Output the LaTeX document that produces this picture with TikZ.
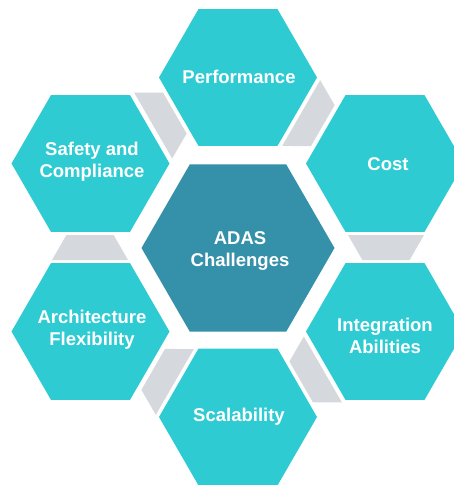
\documentclass[tikz,border=0pt]{standalone}
\usepackage{fontspec}
\setmainfont{Liberation Sans}
\usetikzlibrary{shapes.geometric}
\definecolor{hexcyan}{HTML}{2ECBD2}
\definecolor{hexdark}{HTML}{3590A9}
\definecolor{gapgray}{HTML}{D5D8DC}
\begin{document}
\begin{tikzpicture}[x=1pt,y=-1pt,
  hexo/.style={regular polygon, regular polygon sides=6, minimum size=158pt,
    inner sep=0pt, outer sep=0pt, fill=hexcyan},
  hexc/.style={hexo, minimum size=193pt, fill=hexdark},
  lbl/.style={text=white, inner sep=0pt,
    font=\bfseries\fontsize{18.5}{22}\selectfont, align=center},
  gappiece/.style={fill=gapgray}]
\useasboundingbox (0,0) rectangle (454,485);
\clip (0,0) rectangle (454,485);
\coordinate (c) at (238,247.5);
% gray connecting pieces (clockwise flow)
\foreach \a in {0,60,...,300}{
  \begin{scope}[shift={(c)}, rotate=\a]
    \fill[gappiece] (110,-12.5) -- (186,-12.5) -- (171.6,12.5) -- (124.4,12.5) -- cycle;
  \end{scope}
}
\node[hexc] (adas) at (238,248) {};
\node[hexo] (perf) at (238,77.5) {};
\node[hexo] (cost) at (385,163.5) {};
\node[hexo] (integ) at (385,331.5) {};
\node[hexo] (scal) at (238,417) {};
\node[hexo] (arch) at (90.5,331.5) {};
\node[hexo] (safe) at (90.5,163.5) {};
\node[lbl] (adast) at (240,251) {ADAS\\Challenges};
\node[lbl] (perft) at (239,77) {Performance};
\node[lbl] (costt) at (388,164) {Cost};
\node[lbl] (integt) at (385,336) {Integration\\Abilities};
\node[lbl] (scalt) at (239,417) {Scalability};
\node[lbl] (archt) at (92,329.5) {Architecture\\Flexibility};
\node[lbl] (safet) at (92,162) {Safety and\\Compliance};
\end{tikzpicture}
\end{document}
